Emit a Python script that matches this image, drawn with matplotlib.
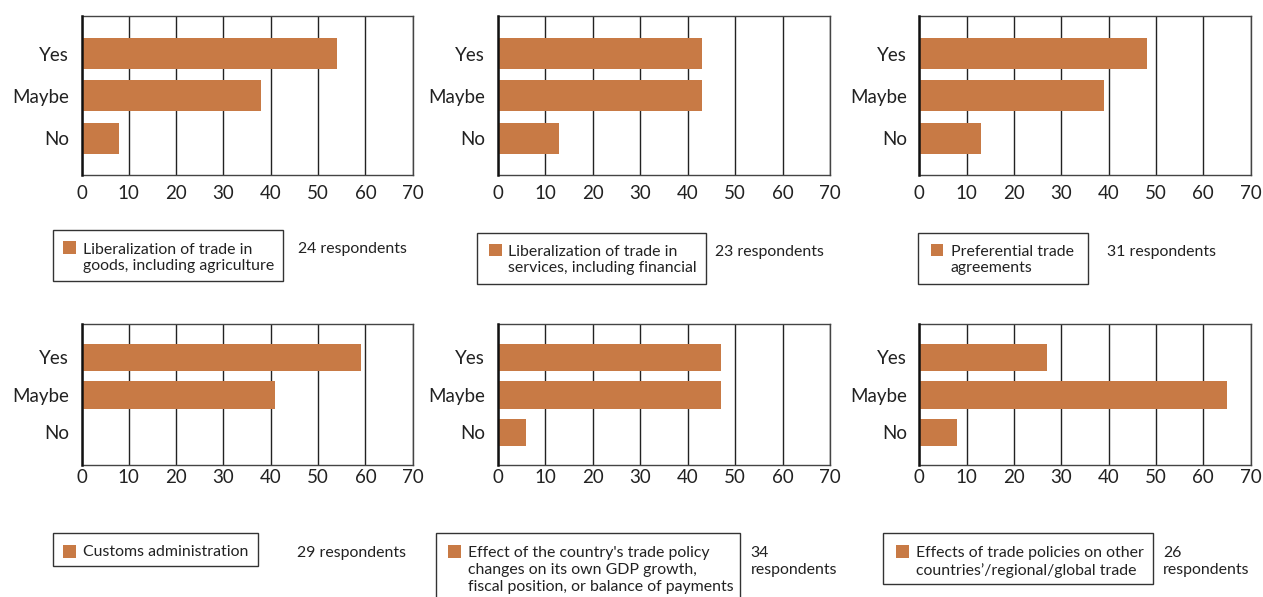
import matplotlib
matplotlib.use('Agg')
import matplotlib.pyplot as plt
from matplotlib.patches import Rectangle

plt.rcParams['font.family'] = ['Lato', 'DejaVu Sans']

# data
categories = ['Yes', 'Maybe', 'No']
goods = [54, 38, 8]
services = [43, 43, 13]
preferential = [48, 39, 13]
customs = [59, 41, 0]
own_effect = [47, 47, 6]
other_effect = [27, 65, 8]
series = [goods, services, preferential, customs, own_effect, other_effect]

topics = ['Liberalization of trade in\ngoods, including agriculture',
          'Liberalization of trade in\nservices, including financial',
          'Preferential trade\nagreements',
          'Customs administration',
          "Effect of the country's trade policy\nchanges on its own GDP growth,\nfiscal position, or balance of payments",
          'Effects of trade policies on other\ncountries\u2019/regional/global trade']
respondents = ['24 respondents', '23 respondents', '31 respondents',
               '29 respondents', '34\nrespondents', '26\nrespondents']
xticks = [0, 10, 20, 30, 40, 50, 60, 70]

bar_color = '#C87A45'
W, H = 1263, 597

def fx(x):
    return x / W

def fy(y):
    return 1 - y / H

# axes boxes in pixels: left, right, top, bottom
axes_px = [(81.5, 412.7, 15.7, 175), (497.7, 830, 15.7, 175), (919.3, 1250.7, 15.7, 175),
           (81.5, 412.7, 324, 464.7), (497.7, 830, 324, 464.7), (919.3, 1250.7, 324, 464.7)]
# legend boxes: x0, x1, y0, y1, square x, square y, text x, first line centre y, resp x
legend_px = [(53.3, 283.3, 230, 281, 63.3, 241, 82.7, 248, 297.5),
             (476.7, 705.7, 233, 284, 489, 243.5, 508.3, 250, 715),
             (918.3, 1088.3, 233, 284, 930.7, 243.5, 951, 250, 1107),
             (53.3, 258.3, 533.3, 565.7, 63.3, 545, 82.7, 551, 297),
             (436, 740, 533.3, 605, 448.3, 545, 468.3, 551.5, 750.5),
             (883.3, 1153.3, 533.3, 584.3, 896, 545, 916, 551.5, 1163)]

fig = plt.figure(figsize=(12.63, 5.97), dpi=100)

for i in range(6):
    l, r, t, b = axes_px[i]
    ax = fig.add_axes([fx(l), fy(b), fx(r - l), (b - t) / H])
    ax.barh(range(3), series[i], height=0.73, color=bar_color, zorder=3)
    ax.set_xlim(0, 70)
    ax.set_ylim(2.86, -0.89)
    ax.set_xticks(xticks)
    ax.set_yticks(range(3))
    ax.set_yticklabels(categories)
    ax.xaxis.grid(True, color='#222222', linewidth=1.0, zorder=1)
    ax.tick_params(axis='x', length=0, pad=7 if i < 3 else 3, labelsize=13.5, colors='#222222')
    ax.tick_params(axis='y', length=0, pad=9, labelsize=13.5, colors='#222222')
    for s in ['top', 'right', 'bottom']:
        ax.spines[s].set_color('#444444')
        ax.spines[s].set_linewidth(1.0)
    ax.spines['left'].set_color('#111111')
    ax.spines['left'].set_linewidth(1.8)
    ax.spines['left'].set_zorder(4)

    x0, x1, y0, y1, sx, sy, tx, ty, rx = legend_px[i]
    fig.patches.append(Rectangle((fx(x0), fy(y1)), fx(x1 - x0), (y1 - y0) / H,
                                 transform=fig.transFigure, facecolor='white',
                                 edgecolor='#333333', linewidth=1.0))
    fig.patches.append(Rectangle((fx(sx), fy(sy + 12.5)), fx(12.5), 12.5 / H,
                                 transform=fig.transFigure, facecolor=bar_color,
                                 edgecolor='none'))
    fig.text(fx(tx), fy(ty - 5.5), topics[i], fontsize=11.4, color='#222222',
             va='top', ha='left', linespacing=1.27)
    fig.text(fx(rx), fy(ty - 5.5), respondents[i], fontsize=11.4, color='#222222',
             va='top', ha='left', linespacing=1.27)

fig.savefig('out.png', dpi=100)
